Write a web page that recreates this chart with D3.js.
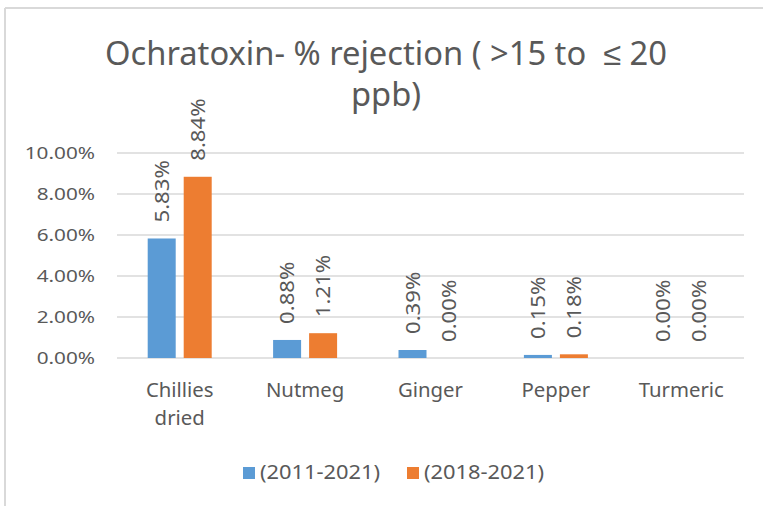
<!DOCTYPE html>
<html>
<head>
<meta charset="utf-8">
<script src="https://cdn.jsdelivr.net/npm/d3@7"></script>
<style>
  body { margin: 0; background: #fff; }
  text { font-family: "Noto Sans", sans-serif; fill: #595959; }
</style>
</head>
<body>
<svg id="chart" width="763" height="506"></svg>
<script>
// chart data
const categories = ["Chillies dried", "Nutmeg", "Ginger", "Pepper", "Turmeric"];
const seriesNames = ["(2011-2021)", "(2018-2021)"];
const values2011 = [5.83, 0.88, 0.39, 0.15, 0.00];
const values2018 = [8.84, 1.21, 0.00, 0.18, 0.00];
const yTicks = [0, 2, 4, 6, 8, 10];
const titleLines = ["Ochratoxin- % rejection ( >15 to  \u2264 20", "ppb)"];

const colors = ["#5B9BD5", "#ED7D31"];

const svg = d3.select("#chart");

// stretch text horizontally (the reference font is rendered wide)
function stretch(sel, k) {
  sel.each(function() {
    var w = this.getComputedTextLength();
    d3.select(this).attr("textLength", w * k).attr("lengthAdjust", "spacingAndGlyphs");
  });
}

// frame
svg.append("line").attr("x1", 5).attr("x2", 763).attr("y1", 8).attr("y2", 8)
   .attr("stroke", "#D9D9D9").attr("stroke-width", 2);
svg.append("line").attr("x1", 5).attr("x2", 5).attr("y1", 8).attr("y2", 506)
   .attr("stroke", "#D9D9D9").attr("stroke-width", 2);

const margin = {left: 117, right: 19, top: 153, bottom: 148};
const w = 763 - margin.left - margin.right,
      h = 506 - margin.top - margin.bottom;

const g = svg.append("g").attr("transform", "translate(" + margin.left + "," + margin.top + ")");

const x0 = d3.scaleBand().domain(categories).range([0, w]).padding(0);
const x1 = d3.scaleBand().domain(seriesNames).range([-32, 32]).paddingInner(2 - 64 / 36).paddingOuter(0);
const y = d3.scaleLinear().domain([0, 10]).range([h, 0]);

// gridlines
g.selectAll(".grid").data(yTicks).enter().append("line")
  .attr("x1", 0).attr("x2", w)
  .attr("y1", d => y(d)).attr("y2", d => y(d))
  .attr("stroke", "#D9D9D9").attr("stroke-width", 1.5);

// y axis labels
const yAxis = g.append("g").call(d3.axisLeft(y).tickValues(yTicks).tickFormat(d => d.toFixed(2) + "%").tickSize(0).tickPadding(22));
yAxis.select(".domain").remove();
yAxis.selectAll("text").style("font-size", "17px").style("font-family", null).attr("fill", null).attr("dy", "0.35em");
stretch(yAxis.selectAll("text"), 1.22);

// bars
const rows = categories.map((c, i) => ({cat: c, vals: [values2011[i], values2018[i]]}));
const groups = g.selectAll(".grp").data(rows).enter().append("g")
  .attr("transform", d => "translate(" + (x0(d.cat) + x0.bandwidth() / 2) + ",0)");

groups.selectAll("rect").data(d => d.vals.map((v, j) => ({s: seriesNames[j], v: v, j: j}))).enter().append("rect")
  .attr("x", d => x1(d.s))
  .attr("width", x1.bandwidth())
  .attr("y", d => y(d.v))
  .attr("height", d => h - y(d.v))
  .attr("fill", d => colors[d.j]);

// data labels, rotated
const labels = groups.selectAll(".lbl").data(d => d.vals.map((v, j) => ({s: seriesNames[j], v: v}))).enter().append("text")
  .attr("transform", d => "translate(" + (x1(d.s) + x1.bandwidth() / 2 + 7) + "," + (y(d.v) - 16) + ") rotate(-90)")
  .style("font-size", "19px")
  .text(d => d.v.toFixed(2) + "%");
stretch(labels, 1.165);

// category labels
const catLabels = g.selectAll(".cat").data(categories).enter().append("text")
  .attr("text-anchor", "middle")
  .attr("x", d => x0(d) + x0.bandwidth() / 2)
  .attr("y", h + 39)
  .style("font-size", "19px");
catLabels.each(function(d) {
  const words = d.split(" ");
  const t = d3.select(this);
  words.forEach((wd, i) => {
    t.append("tspan").attr("x", x0(d) + x0.bandwidth() / 2).attr("dy", i === 0 ? 0 : 28).text(wd);
  });
});
catLabels.selectAll("tspan").each(function() {
  var tw = this.getComputedTextLength();
  d3.select(this).attr("textLength", tw * 1.07).attr("lengthAdjust", "spacingAndGlyphs");
});

// title (keep the double space before the sign)
const title = svg.append("text").attr("text-anchor", "middle")
  .style("font-size", "32px").style("white-space", "pre");
title.selectAll("tspan").data(titleLines).enter().append("tspan")
  .attr("x", 386)
  .attr("y", (d, i) => 65 + i * 41)
  .text(d => d);
const tNodes = title.selectAll("tspan").nodes();
const tk = 562 / tNodes[0].getComputedTextLength();
tNodes.forEach(n => {
  d3.select(n).attr("textLength", n.getComputedTextLength() * tk).attr("lengthAdjust", "spacingAndGlyphs");
});

// legend
const legendX = [243, 407];
const legend = svg.selectAll(".leg").data(seriesNames).enter().append("g")
  .attr("transform", (d, i) => "translate(" + legendX[i] + ",467)");
legend.append("rect").attr("width", 12).attr("height", 12).attr("fill", (d, i) => colors[i]);
const legText = legend.append("text").attr("x", 17).attr("y", 12).style("font-size", "19px").text(d => d);
stretch(legText, 1.15);
</script>
</body>
</html>
